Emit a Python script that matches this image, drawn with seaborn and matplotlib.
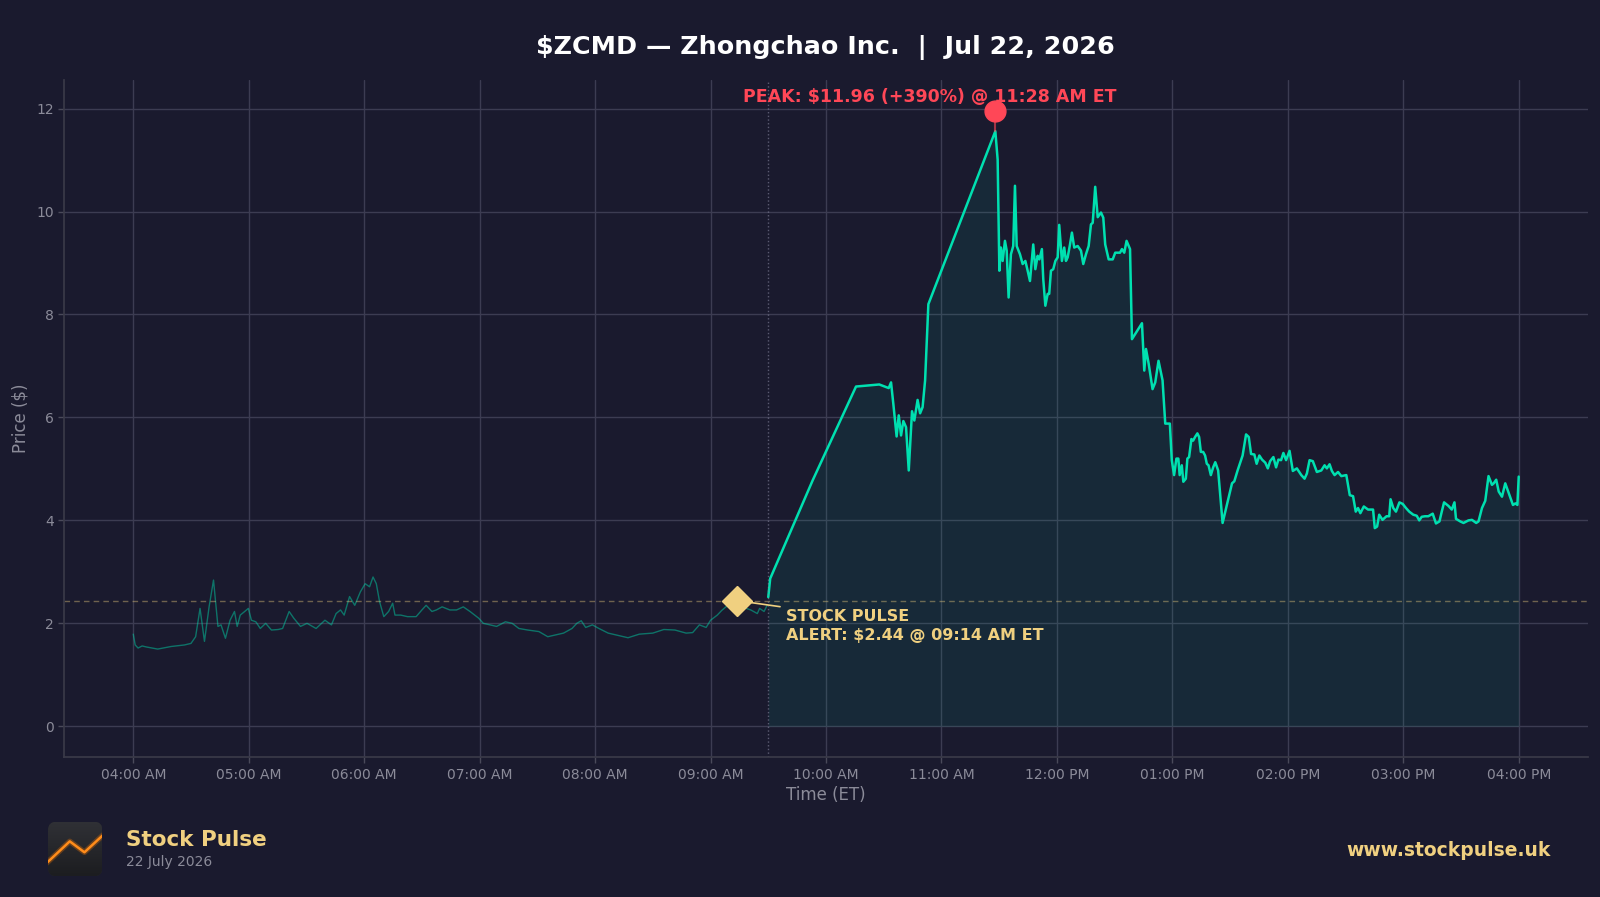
import numpy as np
import pandas as pd
import matplotlib
matplotlib.use("Agg")
import matplotlib.pyplot as plt
import matplotlib.dates as mdates
from matplotlib.patches import FancyBboxPatch
import seaborn as sns

# ---------------------------
# Data (minutes after 04:00 AM ET, price in $)
# ---------------------------
session_date = "2026-07-22"

pre_min = [0, 1, 2.5, 4.6, 6.9, 12.7, 19.7, 26.6, 30, 32.4, 34.7, 37, 39.4, 41.7, 44, 45.6,
           47.9, 50.3, 52.6, 54, 55.6, 57.9, 59.8, 61.4, 63.7, 66, 68.8, 71.8, 75.3, 77.6,
           81, 83.4, 86.9, 90.3, 95, 99.6, 103, 105.4, 107.7, 109.6, 112.4, 115.1, 118,
           120.5, 122.8, 124.6, 126.3, 128, 130.2, 132.7, 134.8, 136, 139, 142.5, 147, 150,
           152.2, 155.2, 157.5, 160.5, 164.5, 168, 171.5, 175, 179.5, 181.9, 185.4, 188.8,
           193.4, 196.9, 200.4, 205, 210.8, 215.4, 218.9, 223.6, 228, 230.5, 232.8, 235.1,
           238.6, 242, 246.8, 251.4, 257.1, 263, 270, 275.7, 281.5, 287.3, 290.7, 294.2,
           297.7, 300, 303.5, 305.8, 308, 311.7, 316.3, 320.9, 324.3, 325.5, 327.8, 329.4]
pre_price = [1.79, 1.58, 1.52, 1.56, 1.54, 1.50, 1.55, 1.58, 1.61, 1.74, 2.29, 1.65, 2.32,
             2.84, 1.94, 1.97, 1.71, 2.06, 2.23, 1.94, 2.16, 2.23, 2.29, 2.06, 2.03, 1.90,
             2.00, 1.87, 1.88, 1.90, 2.23, 2.10, 1.94, 2.00, 1.90, 2.06, 1.97, 2.19, 2.26,
             2.16, 2.52, 2.35, 2.61, 2.77, 2.71, 2.90, 2.77, 2.42, 2.13, 2.23, 2.39, 2.16,
             2.16, 2.13, 2.13, 2.26, 2.35, 2.23, 2.26, 2.32, 2.26, 2.26, 2.32, 2.23, 2.10,
             2.00, 1.97, 1.94, 2.03, 2.00, 1.90, 1.87, 1.84, 1.74, 1.77, 1.81, 1.90, 2.00,
             2.05, 1.92, 1.97, 1.90, 1.81, 1.77, 1.72, 1.79, 1.81, 1.88, 1.87, 1.81, 1.82,
             1.97, 1.92, 2.06, 2.16, 2.25, 2.32, 2.39, 2.32, 2.26, 2.19, 2.29, 2.23, 2.35]

reg_min = [330, 331, 353.1, 375.6, 387.7, 392.6, 393.8, 395, 396.7, 397.8, 399, 400.2, 401.6,
           403, 404.7, 405.9, 407.6, 408.9, 410.2, 411.5, 413.2, 448, 449.2, 450.1, 450.9,
           451.8, 453, 453.9, 454.9, 456.1, 457.3, 458.2, 459.1, 460.8, 462.2, 463.6, 464.8,
           466, 467.7, 468.8, 470, 470.9, 472.2, 472.9, 474, 475.2, 476, 476.9, 478.1, 479.2,
           480.4, 481.2, 482.6, 483.8, 484.7, 485.6, 486.8, 487.8, 489, 490.8, 492.5, 493.7,
           495.1, 496.5, 497.7, 498.6, 499.9, 501.2, 502.9, 504.1, 505.1, 506.9, 509, 510.3,
           512.8, 513.8, 515, 516.2, 518, 519, 524.2, 525.4, 526.3, 527.7, 529.7, 531.1,
           532.8, 534.9, 536.3, 538.7, 539.7, 540.9, 542.1, 543.1, 543.8, 544.9, 545.7, 547,
           547.8, 548.7, 549.9, 550.8, 551.8, 553, 553.9, 554.8, 556, 557, 557.9, 558.8, 560,
           561.2, 562.3, 563.8, 566.1, 571, 572.2, 573.9, 576.5, 578.3, 579.7, 580.9, 582.6,
           583.8, 585.2, 586.6, 588.3, 589.6, 590.8, 592.5, 593.9, 595.1, 596.5, 597.7, 599.1,
           600.9, 602.6, 604.7, 607, 608.7, 609.9, 611.3, 613, 615.1, 617.4, 619.1, 620.3,
           621.7, 622.9, 624.3, 626.1, 627.8, 630.4, 632.2, 633.9, 635.3, 636.5, 637.7, 639.5,
           641.7, 644.3, 645.2, 646.4, 647.5, 649.2, 651.3, 652.7, 653.4, 654.8, 656.2, 658,
           659.7, 661.4, 663.1, 665.2, 667, 668.3, 669.6, 671.3, 673, 675.3, 677, 678.8, 680,
           681.2, 683.5, 685.2, 686.6, 687.4, 689.6, 691.3, 693.9, 695.7, 697.9, 699.1, 700.9,
           702.6, 704.3, 706.1, 707, 708.3, 709.6, 711.3, 713, 714.8, 717, 718.3, 719.3, 720]
reg_price = [2.51, 2.87, 4.78, 6.60, 6.64, 6.57, 6.68, 6.26, 5.63, 6.04, 5.65, 5.93, 5.81,
             4.97, 6.12, 5.94, 6.34, 6.08, 6.20, 6.72, 8.20, 11.56, 11.01, 8.85, 9.30, 9.04,
             9.43, 9.24, 8.33, 9.17, 9.33, 10.50, 9.33, 9.17, 8.98, 9.04, 8.85, 8.65, 9.36,
             8.88, 9.14, 9.07, 9.27, 8.69, 8.17, 8.40, 8.40, 8.85, 8.88, 9.04, 9.11, 9.74,
             9.04, 9.30, 9.04, 9.11, 9.36, 9.59, 9.30, 9.33, 9.24, 8.98, 9.17, 9.33, 9.75,
             9.78, 10.48, 9.89, 9.98, 9.88, 9.36, 9.07, 9.07, 9.20, 9.20, 9.27, 9.20, 9.43,
             9.27, 7.52, 7.83, 6.91, 7.33, 7.04, 6.55, 6.68, 7.10, 6.72, 5.88, 5.88, 5.17,
             4.88, 5.20, 5.20, 4.88, 5.07, 4.75, 4.81, 5.20, 5.23, 5.58, 5.55, 5.62, 5.69,
             5.62, 5.33, 5.33, 5.26, 5.10, 5.07, 4.88, 5.03, 5.13, 4.97, 3.95, 4.72, 4.76,
             4.97, 5.26, 5.67, 5.62, 5.29, 5.28, 5.10, 5.26, 5.18, 5.12, 5.01, 5.15, 5.23,
             5.03, 5.18, 5.17, 5.31, 5.17, 5.35, 4.96, 5.01, 4.88, 4.81, 4.91, 5.17, 5.15,
             4.94, 4.97, 5.07, 5.01, 5.09, 4.96, 4.88, 4.94, 4.86, 4.88, 4.49, 4.47, 4.17,
             4.24, 4.14, 4.27, 4.21, 4.21, 3.85, 3.88, 4.11, 4.01, 4.08, 4.08, 4.41, 4.24,
             4.17, 4.35, 4.32, 4.24, 4.17, 4.11, 4.09, 4.00, 4.07, 4.08, 4.08, 4.13, 3.94,
             3.98, 4.17, 4.35, 4.28, 4.21, 4.35, 4.03, 3.98, 3.95, 4.00, 4.01, 3.95, 3.98,
             4.24, 4.38, 4.86, 4.69, 4.72, 4.79, 4.56, 4.46, 4.72, 4.53, 4.30, 4.33, 4.30,
             4.85]

open_min = 330
alert_min, alert_price = 314, 2.44
peak_min, peak_price = 448, 11.96
peak_close = 11.56

title = "$ZCMD — Zhongchao Inc.  |  Jul 22, 2026"
peak_label = "PEAK: $11.96 (+390%) @ 11:28 AM ET"
alert_label = "STOCK PULSE\nALERT: $2.44 @ 09:14 AM ET"
brand, brand_date, website = "Stock Pulse", "22 July 2026", "www.stockpulse.uk"

# ---------------------------
# Colours
# ---------------------------
BG = "#1a1a2e"
TEAL = "#00e0b0"
GOLD = "#f0d080"
RED = "#ff4757"
GRID = "#3c3c52"
MUTED = "#8b8b99"

base = pd.Timestamp(f"{session_date} 04:00")
to_time = lambda m: base + pd.to_timedelta(np.asarray(m, dtype=float), unit="min")

pre_df = pd.DataFrame({"time": to_time(pre_min), "price": pre_price})
reg_df = pd.DataFrame({"time": to_time(reg_min), "price": reg_price})

sns.set_theme(style="darkgrid")
plt.rcParams.update({
    "figure.facecolor": BG, "axes.facecolor": BG, "savefig.facecolor": BG,
    "grid.color": GRID, "grid.linewidth": 1.0,
    "axes.edgecolor": "#3a3a48", "text.color": "white",
    "xtick.color": MUTED, "ytick.color": MUTED, "axes.labelcolor": MUTED,
})
plt.rcParams["font.family"] = ["DejaVu Sans"]

fig = plt.figure(figsize=(16, 8.97), dpi=100)
ax = fig.add_axes([0.04, 0.156, 0.9525, 0.755])

# pre-market (dim) and regular session (bright + fill)
sns.lineplot(data=pre_df, x="time", y="price", ax=ax, color=TEAL, alpha=0.45, lw=1.0)
sns.lineplot(data=reg_df, x="time", y="price", ax=ax, color=TEAL, lw=1.8)
ax.fill_between(reg_df["time"], reg_df["price"], 0, color=TEAL, alpha=0.08, lw=0)

# reference lines
ax.axhline(alert_price, color=GOLD, alpha=0.4, lw=1, dashes=(4, 3))
ax.axvline(to_time([open_min])[0], color="#8888a0", alpha=0.6, lw=1, ls=":")

# peak marker
t_peak = to_time([peak_min])[0]
ax.plot([t_peak, t_peak], [peak_close, peak_price], color=RED, alpha=0.6, lw=1.5, zorder=4)
ax.plot([t_peak], [peak_price], "o", color=RED, ms=15, zorder=6)
ax.annotate(peak_label, xy=(t_peak, peak_price), xytext=(-47, 10), textcoords="offset points",
            ha="center", va="center", color=RED, fontsize=12.5, fontweight="bold", zorder=7)

# alert marker
t_alert = to_time([alert_min])[0]
ax.plot([t_alert], [alert_price], "D", color=GOLD, ms=15, zorder=6)
ax.annotate(alert_label, xy=(t_alert, alert_price), xytext=(35, -18), textcoords="offset points",
            ha="left", va="center", color=GOLD, fontsize=11.5, fontweight="bold",
            linespacing=1.35, arrowprops=dict(arrowstyle="-", color=GOLD, lw=1.2), zorder=5)

# axes styling
ax.xaxis.set_major_locator(mdates.HourLocator())
ax.xaxis.set_major_formatter(mdates.DateFormatter("%I:%M %p"))
ax.tick_params(axis="both", labelsize=10, length=4, width=1, color="#4a4a5a",
               bottom=True, left=True)
ax.tick_params(axis="x", pad=4)
ax.set_xlabel("Time (ET)", fontsize=12, labelpad=3)
ax.set_ylabel("Price ($)", fontsize=12, labelpad=5)
ax.set_yticks([0, 2, 4, 6, 8, 10, 12])
ax.grid(True, color=GRID, lw=1)
for side in ["top", "right"]:
    ax.spines[side].set_visible(False)
for side in ["left", "bottom"]:
    ax.spines[side].set_visible(True)
    ax.spines[side].set_color("#3a3a48")

fig.text(0.516, 0.947, title, ha="center", va="center", color="white",
         fontsize=18.3, fontweight="bold")

# ---------------------------
# Footer: logo + brand + website
# ---------------------------
logo = fig.add_axes([0.030, 0.023, 0.034, 0.061])
logo.set_xlim(0, 1)
logo.set_ylim(0, 1)
logo.axis("off")
box = FancyBboxPatch((0, 0), 1, 1, boxstyle="round,pad=0,rounding_size=0.16",
                     fc="#27282c", ec="none", transform=logo.transAxes)
logo.add_patch(box)
grad = np.linspace(1, 0, 64).reshape(-1, 1)
img = logo.imshow(grad, extent=(0, 1, 0, 1),
                  cmap=sns.blend_palette(["#1c1d20", "#303136"], as_cmap=True),
                  aspect="auto", zorder=1)
img.set_clip_path(box)
lx = [-0.05, 0.4, 0.67, 1.05]
ly = [0.22, 0.64, 0.44, 0.79]
glow, = logo.plot(lx, ly, color="#ff7a00", lw=4, alpha=0.3, zorder=2)
glow.set_clip_path(box)
ln, = logo.plot(lx, ly, color="#ff8c1a", lw=1.8, zorder=3)
ln.set_clip_path(box)

fig.text(0.079, 0.064, brand, ha="left", va="center", color=GOLD, fontsize=15.5, fontweight="bold")
fig.text(0.079, 0.039, brand_date, ha="left", va="center", color=MUTED, fontsize=10)
fig.text(0.969, 0.052, website, ha="right", va="center", color=GOLD, fontsize=13.5, fontweight="bold")

fig.savefig("out.png", dpi=100, facecolor=BG)
